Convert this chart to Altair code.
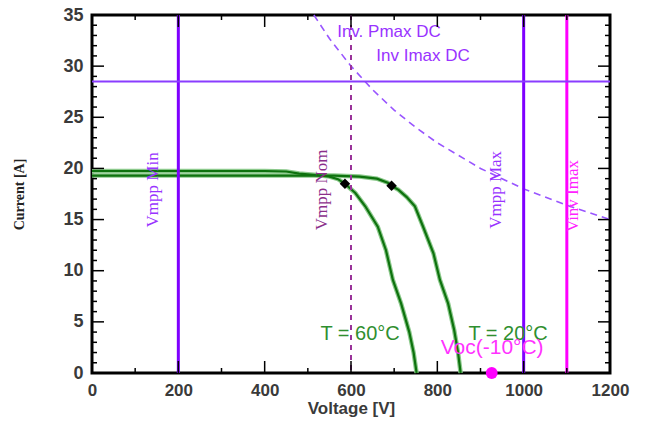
import altair as alt
import pandas as pd

# ---- data ----
t60_v = [0, 100, 200, 300, 400, 450, 480, 520, 550, 570, 586, 610, 633, 662, 681, 697, 716, 735, 745, 752]
t60_i = [19.75, 19.75, 19.75, 19.75, 19.75, 19.7, 19.5, 19.35, 19.2, 18.95, 18.5, 17.6, 16.3, 14.3, 12.0, 9.1, 6.8, 4.0, 2.0, 0.0]
t20_v = [0, 200, 400, 500, 560, 620, 660, 685, 694, 710, 729, 748, 767, 791, 806, 825, 839, 848, 854]
t20_i = [19.3, 19.3, 19.3, 19.3, 19.3, 19.2, 19.0, 18.6, 18.3, 17.9, 17.2, 16.3, 14.3, 11.7, 9.1, 6.8, 4.2, 2.0, 0.0]
mpp_v = [586, 694]
mpp_i = [18.5, 18.3]
pmax_v = [514, 550, 600, 650, 700, 750, 800, 900, 1000, 1100, 1200]
pmax_i = [35.0, 32.7, 30.0, 27.7, 25.7, 24.0, 22.5, 20.0, 18.0, 16.4, 15.0]
vmpp_min = 200
vmpp_nom = 600
vmpp_max = 1000
vinv_max = 1100
imax_dc = 28.5
voc_m10 = 926

x_ticks = [0, 200, 400, 600, 800, 1000, 1200]
y_ticks = [0, 5, 10, 15, 20, 25, 30, 35]
x_minor = [100, 300, 500, 700, 900, 1100]
y_minor = [i for i in range(36) if i % 5 != 0]

W, H = 518, 358
xs = alt.Scale(domain=[0, 1200], nice=False, zero=False)
ys = alt.Scale(domain=[0, 35], nice=False, zero=False)

XAX = alt.Axis(values=x_ticks, format="d", title="Voltage [V]", ticks=False, domain=False,
               grid=False, labelFlush=False, labelPadding=9, titlePadding=2, labelFontSize=17,
               labelFont="Liberation Sans", labelFontWeight="bold", labelColor="#3a3a3a",
               titleFont="Liberation Sans", titleFontSize=17, titleFontWeight="bold", titleColor="#3a3a3a")
YAX = alt.Axis(values=y_ticks, format="d", title="Current [A]", ticks=False, domain=False,
               grid=False, labelFlush=False, labelPadding=9, titlePadding=36, labelFontSize=18,
               labelFont="Liberation Sans", labelFontWeight="bold", labelColor="#3a3a3a",
               titleFont="Liberation Serif", titleFontSize=14, titleFontWeight="bold", titleColor="#222222")


def xq(field="v"):
    return alt.X(f"{field}:Q", scale=xs, axis=XAX)


def yq(field="i"):
    return alt.Y(f"{field}:Q", scale=ys, axis=YAX)


curves = pd.DataFrame({"v": t60_v + t20_v, "i": t60_i + t20_i,
                       "T": ["60"] * len(t60_v) + ["20"] * len(t20_v)})

halo = alt.Chart(curves).mark_line(color="#8cc98c", strokeWidth=4.5).encode(
    x=xq(), y=yq(), detail="T:N", order="v:Q")
line = alt.Chart(curves).mark_line(color="#0e720e", strokeWidth=2.2).encode(
    x=xq(), y=yq(), detail="T:N", order="v:Q")

pmax = alt.Chart(pd.DataFrame({"v": pmax_v, "i": pmax_i})).mark_line(
    color="#9955ff", strokeWidth=1.6, strokeDash=[7, 5]).encode(x=xq(), y=yq())


def vline(v, color, width, dash=None):
    kw = dict(color=color, strokeWidth=width)
    if dash:
        kw["strokeDash"] = dash
    return alt.Chart(pd.DataFrame({"v": [v]})).mark_rule(**kw).encode(x=xq())


hline = alt.Chart(pd.DataFrame({"i": [imax_dc]})).mark_rule(color="#8a3cff", strokeWidth=2).encode(y=yq())

dots = alt.Chart(pd.DataFrame({"v": mpp_v, "i": mpp_i})).mark_point(
    shape="diamond", filled=True, color="black", size=110, opacity=1).encode(x=xq(), y=yq())
voc = alt.Chart(pd.DataFrame({"v": [voc_m10], "i": [0]})).mark_point(
    shape="circle", filled=True, color="#ff00ff", size=140, opacity=1).encode(x=xq(), y=yq())


def label(txt, v, i, color, size, font="Liberation Sans", angle=0):
    return alt.Chart(pd.DataFrame({"v": [v], "i": [i], "t": [txt]})).mark_text(
        color=color, fontSize=size, font=font, angle=angle, align="center", baseline="middle").encode(
        x=xq(), y=yq(), text="t:N")


labels = [
    label("Inv. Pmax DC", 688, 33.3, "#9933ff", 17),
    label("Inv Imax DC", 767, 31.0, "#9933ff", 17),
    label("T = 60°C", 621, 3.8, "#2f8f2f", 20),
    label("T = 20°C", 964, 3.8, "#2f8f2f", 20),
    label("Voc(-10°C)", 927, 2.4, "#ff33ff", 21),
    label("Vmpp Min", 141, 17.9, "#9933ff", 17, "Liberation Serif", 270),
    label("Vmpp Nom", 533, 17.9, "#8b2f8b", 17, "Liberation Serif", 270),
    label("Vmpp Max", 936, 17.9, "#9933ff", 17, "Liberation Serif", 270),
    label("Vinv Imax", 1114, 17.3, "#ff22ff", 17, "Liberation Serif", 270),
]


def yticks(vals, length):
    d = pd.DataFrame({"i": vals})
    left = alt.Chart(d).mark_rule(color="black", strokeWidth=1.5).encode(
        y=yq(), x=alt.value(0), x2=alt.value(length))
    right = alt.Chart(d).mark_rule(color="black", strokeWidth=1.5).encode(
        y=yq(), x=alt.value(W - length), x2=alt.value(W))
    return [left, right]


def xticks(vals, length):
    d = pd.DataFrame({"v": vals})
    bottom = alt.Chart(d).mark_rule(color="black", strokeWidth=1.5).encode(
        x=xq(), y=alt.value(H - length), y2=alt.value(H))
    top = alt.Chart(d).mark_rule(color="black", strokeWidth=1.5).encode(
        x=xq(), y=alt.value(0), y2=alt.value(length))
    return [bottom, top]


ticks = yticks(y_ticks, 12) + yticks(y_minor, 5) + xticks(x_ticks, 12) + xticks(x_minor, 5)

layers = [halo, line, pmax,
          vline(vmpp_nom, "#993399", 2, [5, 5]),
          vline(vmpp_min, "#7f00ff", 3), vline(vmpp_max, "#7f00ff", 3), vline(vinv_max, "#ff00ff", 3),
          hline, dots, voc] + labels + ticks

chart = alt.layer(*layers).properties(
    width=W, height=H,
    autosize=alt.AutoSizeParams(type="none"),
    padding={"left": 92, "top": 15, "right": 39, "bottom": 48},
).configure_view(stroke="black", strokeWidth=3)

chart.save("out.html", embed_options={"renderer": "svg", "actions": False})
